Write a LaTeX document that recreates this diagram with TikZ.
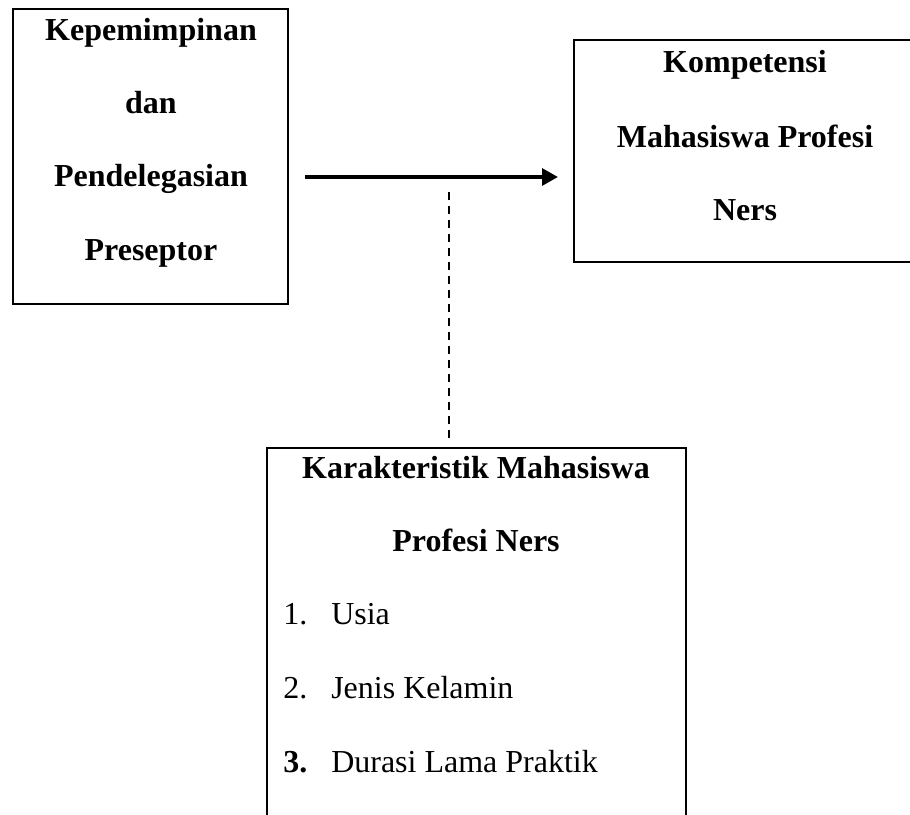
\documentclass[tikz,border=0pt]{standalone}
\usepackage{fontspec}
\setmainfont{Liberation Serif}
\usetikzlibrary{arrows.meta}
\begin{document}
\begin{tikzpicture}[x=0.75pt,y=-0.75pt,
  box/.style={draw,line width=1.6pt,rectangle,inner sep=0pt},
  txt/.style={anchor=base,inner sep=0pt,font=\fontsize{24}{29}\selectfont\bfseries},
  itm/.style={anchor=base west,inner sep=0pt,font=\fontsize{24}{29}\selectfont},
  link/.style={line width=3pt,-{Triangle[length=12pt,width=12.5pt]}},
  dashline/.style={line width=1.2pt,dash pattern=on 6pt off 4.5pt}]
\useasboundingbox (0,0) rectangle (910,814);
\clip (0,0) rectangle (910,814);
% boxes
\node[box,minimum width=206.25pt,minimum height=221.25pt] (b1) at (150.5,156.5) {};
\node[box,minimum width=256.5pt,minimum height=166.5pt] (b2) at (745,151) {};
\node[box,minimum width=314.25pt,minimum height=294pt] (b3) at (476.5,644) {};
% box 1 text
\node[txt] (t11) at (151,40) {Kepemimpinan};
\node[txt] (t12) at (151,113) {dan};
\node[txt] (t13) at (151,186) {Pendelegasian};
\node[txt] (t14) at (151,260) {Preseptor};
% box 2 text
\node[txt] (t21) at (745,72) {Kompetensi};
\node[txt] (t22) at (745,147) {Mahasiswa Profesi};
\node[txt] (t23) at (745,220) {Ners};
% box 3 text
\node[txt] (t31) at (476,478) {Karakteristik Mahasiswa};
\node[txt] (t32) at (476,551) {Profesi Ners};
\node[itm] (n1) at (283,624) {1.};
\node[itm] (i1) at (331,624) {Usia};
\node[itm] (n2) at (283,698) {2.};
\node[itm] (i2) at (331,698) {Jenis Kelamin};
\node[itm,font=\fontsize{24}{29}\selectfont\bfseries] (n3) at (283,772) {3.};
\node[itm] (i3) at (331,772) {Durasi Lama Praktik};
% connectors
\coordinate (a1) at (305,177);
\coordinate (a2) at (558,177);
\draw[link] (a1) -- (a2);
\coordinate (d1) at (449,192);
\coordinate (d2) at (449,438);
\draw[dashline] (d1) -- (d2);
\end{tikzpicture}
\end{document}
